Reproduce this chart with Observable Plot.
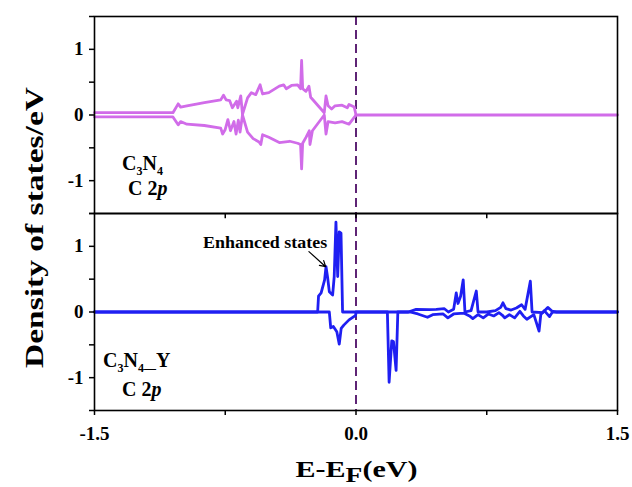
<!DOCTYPE html>
<html><head><meta charset="utf-8">
<script src="https://cdn.jsdelivr.net/npm/d3@7"></script>
<script src="https://cdn.jsdelivr.net/npm/@observablehq/plot@0.6"></script>
<style>
body{margin:0;background:#fff}
svg{font-family:"Liberation Serif","Times New Roman",serif}
</style>
</head><body><div id="chart"></div>
<script>
const panels = ["C3N4", "C3N4-Y"];
const yTicks = [-1.5, -1, -0.5, 0, 0.5, 1, 1.5];
const yTickLabels = ["", "-1", "", "0", "", "1", ""];
const xTicks = [-1.5, -0.75, 0, 0.75, 1.5];
const xTickLabels = ["-1.5", "", "0.0", "", "1.5"];
const innerTicksX = [-0.75, 0, 0.75];
const fermiX = [0];

// C3N4, C 2p spin up
const c3n4UpX = [-1.5,-1.05,-1.02,-1.006,-0.97,-0.87,-0.776,-0.76,-0.745,-0.725,-0.709,-0.685,-0.678,-0.661,-0.651,-0.622,-0.60,-0.575,-0.55,-0.536,-0.50,-0.44,-0.415,-0.40,-0.37,-0.335,-0.318,-0.312,-0.306,-0.287,-0.27,-0.26,-0.182,-0.172,-0.16,-0.14,-0.12,-0.08,-0.05,-0.04,-0.01,0,1.5];
const c3n4UpY = [0.035,0.035,0.17,0.12,0.14,0.19,0.23,0.30,0.23,0.22,0.11,0.21,0.11,0.29,0.01,0.26,0.34,0.31,0.46,0.32,0.34,0.44,0.46,0.40,0.45,0.46,0.40,0.83,0.40,0.36,0.44,0.27,0.035,0.29,0.14,0.09,0.14,0.15,0.11,0.16,0.12,0,0];
// C3N4, C 2p spin down
const c3n4DnX = [-1.5,-1.05,-1.02,-1.006,-0.97,-0.87,-0.776,-0.765,-0.75,-0.735,-0.72,-0.70,-0.688,-0.675,-0.665,-0.651,-0.622,-0.59,-0.556,-0.546,-0.536,-0.50,-0.44,-0.38,-0.335,-0.318,-0.312,-0.306,-0.287,-0.268,-0.264,-0.25,-0.182,-0.172,-0.16,-0.12,-0.08,-0.04,-0.02,0];
const c3n4DnY = [-0.03,-0.03,-0.15,-0.10,-0.14,-0.16,-0.20,-0.29,-0.22,-0.07,-0.24,-0.10,-0.29,-0.08,-0.26,0,-0.26,-0.36,-0.41,-0.45,-0.30,-0.34,-0.42,-0.40,-0.43,-0.45,-0.82,-0.43,-0.34,-0.24,-0.45,-0.24,0,-0.29,-0.10,-0.12,-0.10,-0.14,-0.07,0];
// C3N4-Y, C 2p spin up
const c3n4yUpX = [-1.5,-0.22,-0.215,-0.20,-0.18,-0.172,-0.163,-0.153,-0.134,-0.125,-0.115,-0.105,-0.096,-0.086,-0.077,0.30,0.345,0.42,0.46,0.507,0.53,0.56,0.575,0.585,0.60,0.615,0.625,0.66,0.69,0.70,0.75,0.80,0.83,0.843,0.86,0.89,0.92,0.95,0.97,1.0,1.01,1.07,1.10,1.13,1.5];
const c3n4yUpY = [0,0,0.24,0.29,0.49,0.69,0.53,0.31,0.26,0.54,1.37,0.54,1.22,1.20,0,0,0.04,0.035,0.04,0.05,0.0,0.04,0.29,0.13,0.24,0.49,0,0.02,0.32,0,0,0.02,0.07,0.14,0.05,0.03,0.06,0.11,0.04,0.47,0,-0.01,0.07,0,0];
// C3N4-Y, C 2p spin down
const c3n4yDnX = [-1.5,-0.153,-0.145,-0.13,-0.11,-0.096,-0.085,-0.07,-0.04,-0.002,0,0.18,0.19,0.205,0.215,0.23,0.24,0.31,0.355,0.41,0.44,0.50,0.527,0.56,0.60,0.62,0.651,0.67,0.70,0.73,0.76,0.79,0.82,0.84,0.853,0.88,0.91,0.94,0.96,0.98,1.02,1.05,1.06,1.08,1.11,1.13,1.15,1.5];
const c3n4yDnY = [0,0,-0.24,-0.22,-0.30,-0.49,-0.25,-0.20,-0.12,-0.05,0,0,-1.07,-0.44,-0.45,-0.89,0,0,-0.03,-0.08,-0.04,-0.03,-0.09,-0.03,-0.02,-0.02,-0.06,-0.10,-0.04,-0.09,-0.03,-0.06,-0.01,-0.05,-0.09,-0.04,-0.09,0.01,-0.06,-0.11,-0.04,-0.29,-0.04,0.02,-0.07,0.01,0,0];

const violet = "#d16ce9";
const blue = "#1f1ff2";
const fermiColor = "#5e2475";

function rows(panel, series, xs, ys) {
  return xs.map((x, i) => ({panel, series, x, y: ys[i]}));
}
const topRows = [...rows("C3N4", "up", c3n4UpX, c3n4UpY), ...rows("C3N4", "down", c3n4DnX, c3n4DnY)];
const botRows = [...rows("C3N4-Y", "up", c3n4yUpX, c3n4yUpY), ...rows("C3N4-Y", "down", c3n4yDnX, c3n4yDnY)];
const fermiRows = panels.flatMap(p => fermiX.map(x => ({panel: p, x})));
const innerTickRows = innerTicksX.map(x => ({panel: "C3N4-Y", x}));
const arrowRows = [{panel: "C3N4-Y", x1: -0.27, y1: 0.92, x2: -0.174, y2: 0.69}];

const W = 632, H = 487, ML = 94, MR = 15, MT = 15, MB = 77;

const plot = Plot.plot({
  width: W, height: H,
  marginLeft: ML, marginRight: MR, marginTop: MT, marginBottom: MB,
  style: {fontFamily: "'Liberation Serif','Times New Roman',serif", fontWeight: "bold", fontSize: "19px", color: "#000", background: "#fff", overflow: "visible"},
  x: {domain: [-1.5, 1.5]},
  y: {domain: [-1.5, 1.5]},
  fy: {domain: panels, padding: 0, axis: null, label: null},
  marks: [
    Plot.ruleX(fermiRows, {x: "x", fy: "panel", stroke: fermiColor, strokeWidth: 2, strokeDasharray: "9,5"}),
    Plot.line(topRows, {x: "x", y: "y", z: "series", fy: "panel", stroke: violet, strokeWidth: 2.8, strokeLinejoin: "round"}),
    Plot.line(botRows, {x: "x", y: "y", z: "series", fy: "panel", stroke: blue, strokeWidth: 2.8, strokeLinejoin: "round"}),
    Plot.ruleX(innerTickRows, {x: "x", fy: "panel", y1: 1.5, y2: 1.42, stroke: "#000", strokeWidth: 1.5}),
    Plot.arrow(arrowRows, {x1: "x1", y1: "y1", x2: "x2", y2: "y2", fy: "panel", stroke: "#000", strokeWidth: 1.2, headLength: 8}),
    Plot.frame({stroke: "#000", strokeWidth: 1.6}),
    Plot.axisY({ticks: yTicks, tickFormat: d => yTickLabels[yTicks.indexOf(d)], tickSize: 5, tickPadding: 6, label: null, strokeWidth: 1.5}),
    Plot.axisX({ticks: xTicks, tickFormat: d => xTickLabels[xTicks.indexOf(d)], tickSize: 5, tickPadding: 11, label: null, strokeWidth: 1.5})
  ]
});

document.getElementById("chart").appendChild(plot);

const svg = d3.select(plot);
const sx = plot.scale("x"), sy = plot.scale("y"), sfy = plot.scale("fy");
function pos(panel, x, y) { return [sx.apply(x), sfy.apply(panel) - MT + sy.apply(y)]; }

// Y label
svg.append("text")
  .attr("transform", `translate(43,${(MT + H - MB) / 2 + 15}) rotate(-90)`)
  .attr("text-anchor", "middle").attr("font-size", 26).attr("font-weight", "bold").attr("fill", "#000")
  .attr("textLength", 281).attr("lengthAdjust", "spacingAndGlyphs")
  .text("Density of states/eV");

// X label
const xl = svg.append("text")
  .attr("x", (ML + W - MR) / 2 + 1).attr("y", 477)
  .attr("text-anchor", "middle").attr("font-size", 23).attr("font-weight", "bold").attr("fill", "#000")
  .attr("textLength", 122).attr("lengthAdjust", "spacingAndGlyphs");
xl.append("tspan").text("E-E");
xl.append("tspan").attr("dy", 5).attr("font-size", 21).text("F");
xl.append("tspan").attr("dy", -5).text("(eV)");

function richLabel(panel, x, y, parts, size) {
  const [px, py] = pos(panel, x, y);
  const t = svg.append("text").attr("x", px).attr("y", py).attr("text-anchor", "start")
    .attr("font-size", size).attr("font-weight", "bold").attr("fill", "#000");
  let shift = 0;
  parts.forEach(p => {
    const target = p.sub ? 5 : 0;
    const s = t.append("tspan").attr("dy", target - shift).text(p.t);
    if (p.sub) s.attr("font-size", size * 0.6);
    if (p.it) s.attr("font-style", "italic");
    shift = target;
  });
}
richLabel("C3N4", -1.339, -0.84, [{t: "C"}, {t: "3", sub: true}, {t: "N"}, {t: "4", sub: true}], 20);
richLabel("C3N4", -1.305, -1.22, [{t: "C 2"}, {t: "p", it: true}], 20);
richLabel("C3N4-Y", -1.448, -0.85, [{t: "C"}, {t: "3", sub: true}, {t: "N"}, {t: "4—", sub: true}, {t: "Y"}], 20);
richLabel("C3N4-Y", -1.339, -1.28, [{t: "C 2"}, {t: "p", it: true}], 20);

{
  const [px, py] = pos("C3N4-Y", -0.874, 0.97);
  svg.append("text").attr("x", px).attr("y", py).attr("text-anchor", "start").attr("font-size", 17).attr("font-weight", "bold")
    .attr("fill", "#000").attr("textLength", 124).attr("lengthAdjust", "spacingAndGlyphs")
    .text("Enhanced states");
}
</script>
</body></html>
